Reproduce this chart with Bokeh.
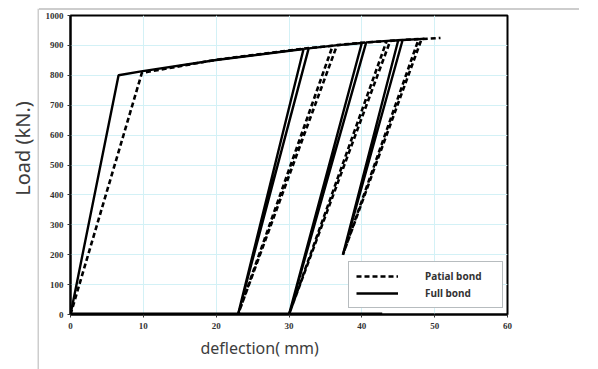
import math
from bokeh.plotting import figure
from bokeh.layouts import row, column
from bokeh.models import Legend, LegendItem, Range1d, FixedTicker, Title, Spacer, Label, Span
from bokeh.embed import file_html
from bokeh.resources import INLINE

# ---- data ----
full_x = [0, 6.6, 9.7, 20, 32.0, 23.0, 32.7, 36.4, 40.0, 30.0, 40.6, 43.5, 45.0, 37.4, 45.6, 47.8, 48.6]
full_y = [0, 800, 813, 851, 888, 0, 890, 900, 908, 0, 910, 915, 917, 200, 918, 921, 922]

partial_x = [0, 9.8, 20, 32.0, 36.0, 23.0, 36.6, 40.5, 43.4, 30.0, 43.9, 45.5, 47.8, 37.4, 48.2, 50.8]
partial_y = [0, 808, 852, 889, 899, 0, 901, 910, 914, 0, 915, 918, 921, 200, 921, 925]

base_x = [0, 42.8]
base_y = [0, 0]

x_ticks = [0, 10, 20, 30, 40, 50, 60]
y_ticks = [0, 100, 200, 300, 400, 500, 600, 700, 800, 900, 1000]

TXT = "#3d3d3d"
BORDER = "#cdcdcd"

# ---- narrow panel holding the vertical axis title and the left chart border ----
LAB_W, LAB_H = 39, 361
lab = figure(width=LAB_W, height=LAB_H, output_backend="svg", toolbar_location=None,
             x_range=Range1d(0, LAB_W), y_range=Range1d(0, LAB_H),
             min_border_left=0, min_border_right=0, min_border_top=0, min_border_bottom=0)
lab.xaxis.visible = False
lab.yaxis.visible = False
lab.xgrid.visible = False
lab.ygrid.visible = False
lab.outline_line_color = None
lab.add_layout(Label(x=22, y=LAB_H - 140, text="Load (kN.)", angle=math.pi / 2,
                     text_align="center", text_baseline="middle",
                     text_font="Noto Sans", text_font_size="20px",
                     text_color=TXT))
lab.add_layout(Span(location=LAB_W - 1, dimension="height", line_color=BORDER, line_width=2))

# ---- main chart ----
p = figure(output_backend="svg", toolbar_location=None,
           x_range=Range1d(0, 60), y_range=Range1d(0, 1000),
           frame_width=437, frame_height=299,
           min_border_left=31, min_border_top=5, min_border_right=55, min_border_bottom=0)

p.outline_line_color = "black"
p.outline_line_width = 2
p.background_fill_color = "white"

for ax in (p.xaxis, p.yaxis):
    ax.axis_line_color = "black"
    ax.axis_line_width = 2
    ax.major_tick_line_color = "#333333"
    ax.major_tick_in = 0
    ax.major_tick_out = 3
    ax.minor_tick_line_color = None
    ax.major_label_text_font = "Liberation Serif"
    ax.major_label_text_font_size = "9px"
    ax.major_label_text_font_style = "bold"
    ax.major_label_text_color = "#333333"

p.xaxis.ticker = FixedTicker(ticks=x_ticks)
p.yaxis.ticker = FixedTicker(ticks=y_ticks)
p.xaxis.major_label_standoff = 5
p.yaxis.major_label_standoff = 4

p.add_layout(Title(text="deflection( mm)", align="left", offset=130,
                   text_font="Noto Sans", text_font_size="16px",
                   text_font_style="normal", text_color=TXT, standoff=6), "below")

p.xgrid.grid_line_color = "#d3f1f6"
p.ygrid.grid_line_color = "#d3f1f6"
p.xgrid.grid_line_width = 1
p.ygrid.grid_line_width = 1

r_base = p.line(base_x, base_y, line_color="black", line_width=4)
r_full = p.line(full_x, full_y, line_color="black", line_width=2.4)
r_part = p.line(partial_x, partial_y, line_color="black", line_width=2.6, line_dash="5 3")

legend = Legend(items=[LegendItem(label="Patial bond", renderers=[r_part]),
                       LegendItem(label="Full bond", renderers=[r_full])],
                location=(278, 6))
legend.border_line_color = "#6f7a80"
legend.border_line_width = 1.5
legend.background_fill_color = "white"
legend.background_fill_alpha = 1
legend.padding = 7
legend.spacing = 3
legend.glyph_width = 42
legend.glyph_height = 14
legend.label_height = 14
legend.label_width = 70
legend.label_standoff = 27
legend.label_text_font = "Noto Sans"
legend.label_text_font_size = "10px"
legend.label_text_font_style = "bold"
legend.label_text_color = "#333333"
p.add_layout(legend, "center")

# thin grey top border line of the chart area
hline = Spacer(width=540, height=2, styles={"background-color": BORDER})

layout = column(Spacer(height=8),
                row(lab, column(hline, p, spacing=0), spacing=0),
                spacing=0)
open("out.html", "w").write(file_html(layout, INLINE))
